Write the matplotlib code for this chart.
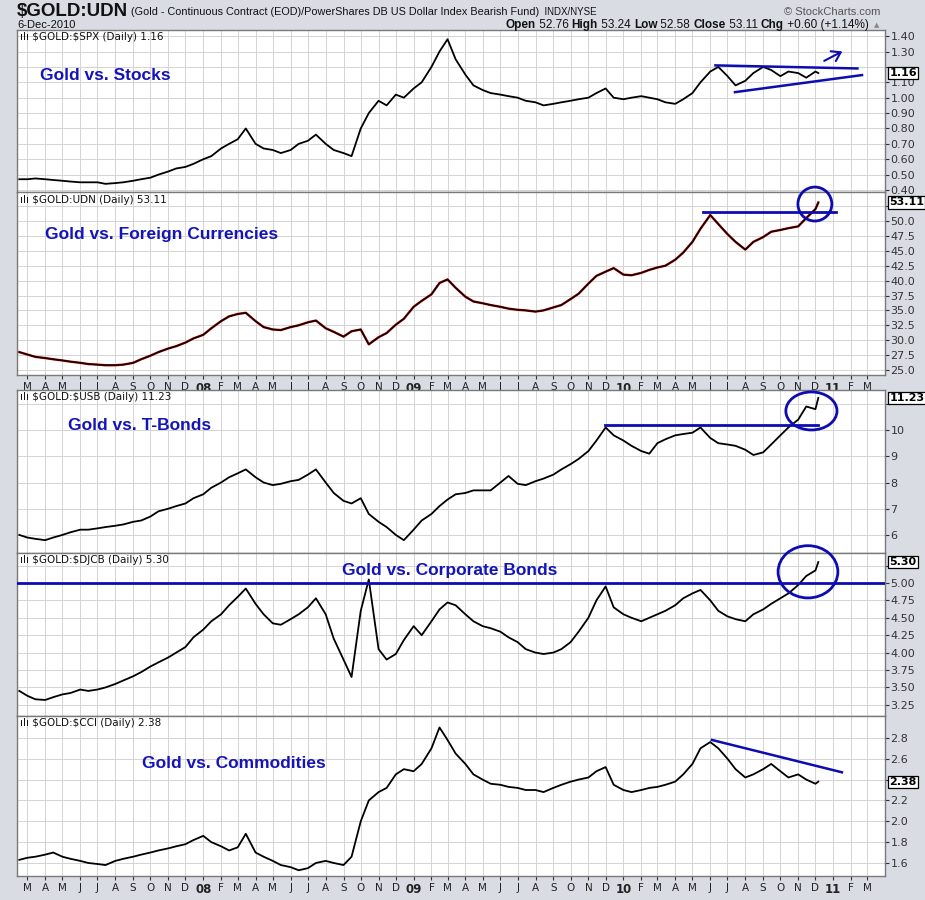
import matplotlib
matplotlib.use('Agg')
import matplotlib.pyplot as plt
import matplotlib.dates as mdates
from matplotlib.patches import Ellipse
from matplotlib.transforms import blended_transform_factory
import pandas as pd
import numpy as np

# ---------------- data ----------------
dates = list(pd.date_range('2007-02-15', '2010-12-01', freq='SMS')) + [pd.Timestamp('2010-12-06')]

gold_spx = [0.47,0.47,0.475,0.47,0.465,0.46,0.455,0.45,0.45,0.45,
            0.44,0.445,0.45,0.46,0.47,0.48,0.50,0.52,0.54,0.55,
            0.57,0.60,0.62,0.67,0.70,0.73,0.80,0.70,0.67,0.66,
            0.64,0.66,0.70,0.72,0.76,0.70,0.66,0.64,0.62,0.80,
            0.90,0.98,0.95,1.02,1.00,1.06,1.10,1.20,1.30,1.38,
            1.25,1.15,1.08,1.05,1.03,1.02,1.01,1.00,0.98,0.97,
            0.95,0.96,0.97,0.98,0.99,1.00,1.03,1.06,1.00,0.99,
            1.00,1.01,1.00,0.99,0.97,0.96,0.99,1.03,1.10,1.17,
            1.20,1.14,1.08,1.11,1.16,1.20,1.18,1.14,1.17,1.16,
            1.13,1.17,1.16]

gold_udn = [28.0,27.6,27.2,27.0,26.8,26.6,26.4,26.2,26.0,25.9,
            25.8,25.8,25.9,26.2,26.8,27.4,28.0,28.6,29.0,29.6,
            30.3,30.9,32.0,33.2,34.0,34.4,34.6,33.2,32.2,31.8,
            31.7,32.2,32.5,33.0,33.3,32.0,31.4,30.6,31.5,31.8,
            29.3,30.5,31.2,32.6,33.6,35.6,36.6,37.7,39.6,40.2,
            38.8,37.3,36.5,36.2,35.9,35.6,35.3,35.1,35.0,34.8,
            35.0,35.5,35.9,36.9,37.8,39.5,40.8,41.5,42.1,41.0,
            40.9,41.3,41.8,42.2,42.5,43.5,44.7,46.5,48.7,51.0,
            49.5,47.8,46.5,45.2,46.5,47.3,48.2,48.5,48.8,49.1,
            50.5,52.0,53.11]

gold_usb = [6.0,5.9,5.85,5.8,5.9,6.0,6.1,6.2,6.2,6.25,
            6.3,6.35,6.4,6.5,6.55,6.7,6.9,7.0,7.1,7.2,
            7.4,7.55,7.8,8.0,8.2,8.35,8.5,8.2,8.0,7.9,
            7.95,8.05,8.1,8.3,8.5,8.0,7.6,7.3,7.2,7.4,
            6.8,6.5,6.3,6.0,5.8,6.2,6.55,6.8,7.1,7.35,
            7.55,7.6,7.7,7.7,7.7,8.0,8.25,7.95,7.9,8.05,
            8.15,8.3,8.5,8.7,8.9,9.2,9.6,10.1,9.8,9.6,
            9.4,9.2,9.1,9.5,9.65,9.8,9.85,9.9,10.1,9.7,
            9.5,9.45,9.4,9.25,9.05,9.15,9.45,9.8,10.1,10.4,
            10.9,10.8,11.23]

gold_djcb = [3.45,3.38,3.33,3.32,3.36,3.40,3.42,3.47,3.45,3.47,
             3.50,3.55,3.60,3.66,3.72,3.80,3.86,3.93,4.00,4.08,
             4.22,4.33,4.45,4.55,4.68,4.80,4.92,4.70,4.55,4.42,
             4.40,4.48,4.55,4.65,4.78,4.55,4.20,3.90,3.65,4.60,
             5.05,4.05,3.90,3.98,4.18,4.38,4.25,4.45,4.62,4.72,
             4.68,4.55,4.45,4.38,4.35,4.30,4.22,4.15,4.05,4.00,
             3.98,4.00,4.05,4.15,4.30,4.50,4.75,4.95,4.65,4.55,
             4.50,4.45,4.50,4.55,4.60,4.68,4.78,4.85,4.90,4.75,
             4.60,4.52,4.48,4.45,4.55,4.62,4.70,4.78,4.85,4.97,
             5.10,5.18,5.30]

gold_cci = [1.63,1.65,1.66,1.68,1.70,1.66,1.64,1.62,1.60,1.59,
            1.58,1.62,1.64,1.66,1.68,1.70,1.72,1.74,1.76,1.78,
            1.82,1.86,1.80,1.76,1.72,1.75,1.88,1.70,1.66,1.62,
            1.58,1.56,1.53,1.55,1.60,1.62,1.60,1.58,1.66,2.00,
            2.20,2.28,2.32,2.45,2.50,2.48,2.55,2.70,2.90,2.78,
            2.65,2.55,2.45,2.40,2.36,2.35,2.33,2.32,2.30,2.30,
            2.28,2.32,2.35,2.38,2.40,2.42,2.48,2.52,2.35,2.30,
            2.28,2.30,2.32,2.33,2.35,2.38,2.45,2.55,2.70,2.76,
            2.70,2.60,2.50,2.42,2.45,2.50,2.55,2.48,2.42,2.45,
            2.40,2.36,2.38]

panel_symbols = ['$GOLD:$SPX', '$GOLD:UDN', '$GOLD:$USB', '$GOLD:$DJCB', '$GOLD:$CCI']
panel_last = ['1.16', '53.11', '11.23', '5.30', '2.38']
panel_titles = ['Gold vs. Stocks', 'Gold vs. Foreign Currencies', 'Gold vs. T-Bonds',
                'Gold vs. Corporate Bonds', 'Gold vs. Commodities']

# annotation data (dates, values)
spx_upper_d, spx_upper_v = ['2010-06-10', '2011-02-12'], [1.21, 1.19]
spx_lower_d, spx_lower_v = ['2010-07-14', '2011-02-20'], [1.036, 1.147]
spx_arrow_d, spx_arrow_v = ['2010-12-12', '2011-01-21'], [1.231, 1.309]
udn_res_d, udn_res_v = ['2010-05-20', '2011-01-05'], 51.5
udn_circ = ('2010-11-30', 52.85, 59, 5.7)
usb_res_d, usb_res_v = ['2009-11-30', '2010-12-06'], 10.2
usb_circ = ('2010-11-24', 10.73, 89, 1.45)
djcb_res_v = 5.00
djcb_circ = ('2010-11-18', 5.16, 104, 0.75)
cci_trend_d, cci_trend_v = ['2010-06-04', '2011-01-16'], [2.78, 2.47]

# ---------------- style ----------------
W_PX, H_PX = 925, 900
BG = '#d9dce3'
BLUE = '#0c0cb0'
TXTBLUE = '#1414b8'
GRID = '#d4d4d4'

fig = plt.figure(figsize=(9.25, 9), dpi=100, facecolor=BG)

def add_ax(top, bot):
    return fig.add_axes([17 / W_PX, 1 - bot / H_PX, 868 / W_PX, (bot - top) / H_PX])

bounds = [(30, 192), (192, 375), (390, 553), (553, 716), (716, 876)]
axes = [add_ax(t, b) for t, b in bounds]

series = [gold_spx, gold_udn, gold_usb, gold_djcb, gold_cci]
ylims = [(0.387, 1.44), (24.16, 54.87), (5.31, 11.53), (3.09, 5.43), (1.475, 3.01)]
yticks = [np.arange(0.40, 1.401, 0.10), np.arange(25.0, 52.51, 2.5), np.arange(6, 12, 1),
          np.arange(3.25, 5.251, 0.25), np.arange(1.6, 2.81, 0.2)]
yfmts = ['{:.2f}', '{:.1f}', '{:.0f}', '{:.2f}', '{:.1f}']

xmin, xmax = pd.Timestamp('2007-02-11'), pd.Timestamp('2011-04-01')
months = pd.date_range('2007-03-01', '2011-03-01', freq='MS')
mlabels = [(str(m.year)[2:] if m.month == 1 else m.strftime('%b')[0]) for m in months]

for i, ax in enumerate(axes):
    ax.set_facecolor('white')
    ax.set_xlim(xmin, xmax)
    ax.set_ylim(*ylims[i])
    ax.set_xticks(months)
    ax.set_yticks(yticks[i])
    last = float(panel_last[i])
    rng = ylims[i][1] - ylims[i][0]
    # labels hidden behind the last-value box are left blank
    ax.set_yticklabels(['' if abs(v - last) < 0.045 * rng else yfmts[i].format(v) for v in yticks[i]])
    ax.yaxis.tick_right()
    ax.tick_params(axis='y', labelsize=8, length=3, pad=1, colors='#333333')
    ax.tick_params(axis='x', length=3, colors='#333333')
    ax.grid(True, color=GRID, lw=0.7)
    ax.set_axisbelow(True)
    for s in ax.spines.values():
        s.set_color('#7a7a7a')
        s.set_linewidth(1.0)
    if i in (1, 4):
        ax.set_xticklabels(mlabels, fontsize=7.5, color='#222222')
        for lab, m in zip(ax.get_xticklabels(), months):
            if m.month == 1:
                lab.set_fontweight('bold')
                lab.set_fontsize(8.5)
        ax.tick_params(axis='x', pad=2)
    else:
        ax.set_xticklabels([])
    if i == 1:
        ax.plot(dates, series[i], color='#c00000', lw=1.7, zorder=2)
        ax.plot(dates, series[i], color='black', lw=1.0, zorder=3)
    else:
        ax.plot(dates, series[i], color='black', lw=1.3, zorder=3)
    # header text
    hdr = u'\u0131l\u0131 ' + panel_symbols[i] + ' (Daily) ' + panel_last[i]
    ax.text(0.004, 0.985, hdr.replace('$', r'\$'),
            transform=ax.transAxes, ha='left', va='top', fontsize=7.5, color='#111111',
            family='DejaVu Sans')
    # last value box
    tr = blended_transform_factory(ax.transAxes, ax.transData)
    ax.text(1.005, last, panel_last[i], transform=tr, ha='left', va='center',
            fontsize=8, fontweight='bold', color='black', zorder=10, clip_on=False,
            bbox=dict(boxstyle='square,pad=0.1', fc='white', ec='black', lw=0.9))

def ell(ax, c):
    d, v, w, h = c
    ax.add_patch(Ellipse((mdates.date2num(pd.Timestamp(d)), v), w, h, fill=False,
                         ec=BLUE, lw=2, clip_on=False, zorder=6))

# annotations
a1, a2, a3, a4, a5 = axes
a1.plot(pd.to_datetime(spx_upper_d), spx_upper_v, color=BLUE, lw=1.8, zorder=5)
a1.plot(pd.to_datetime(spx_lower_d), spx_lower_v, color=BLUE, lw=1.8, zorder=5)
a1.annotate('', xy=(pd.Timestamp(spx_arrow_d[1]), spx_arrow_v[1]),
            xytext=(pd.Timestamp(spx_arrow_d[0]), spx_arrow_v[0]),
            arrowprops=dict(arrowstyle='->,head_length=0.6,head_width=0.4', color=BLUE, lw=1.5))
a2.plot(pd.to_datetime(udn_res_d), [udn_res_v] * 2, color=BLUE, lw=2, zorder=5)
ell(a2, udn_circ)
a3.plot(pd.to_datetime(usb_res_d), [usb_res_v] * 2, color=BLUE, lw=2, zorder=5)
ell(a3, usb_circ)
a4.axhline(djcb_res_v, color=BLUE, lw=2, zorder=5)
ell(a4, djcb_circ)
a5.plot(pd.to_datetime(cci_trend_d), cci_trend_v, color=BLUE, lw=1.8, zorder=5)

# panel titles
def ftxt(x, y, s, **kw):
    return fig.text(x / W_PX, 1 - y / H_PX, s, **kw)

tkw = dict(fontsize=12.5, fontweight='bold', color=TXTBLUE, family='Liberation Sans', va='center', zorder=20)
ftxt(40, 75, panel_titles[0], ha='left', **tkw)
ftxt(45, 235, panel_titles[1], ha='left', **tkw)
ftxt(68, 425, panel_titles[2], ha='left', **tkw)
ftxt(450, 570, panel_titles[3], ha='center', **tkw)
ftxt(142, 763, panel_titles[4], ha='left', **tkw)

# top header
narrow = ['Liberation Sans Narrow', 'Liberation Sans', 'DejaVu Sans']
fig.canvas.draw()
r = fig.canvas.get_renderer()

def seq(x0, y, parts):
    x = x0
    for s, bold, size, col in parts:
        t = ftxt(x, y, s.replace('$', r'\$'), ha='left', va='center', fontsize=size, family=narrow,
                 fontweight='bold' if bold else 'normal', color=col)
        bb = t.get_window_extent(renderer=r)
        x += bb.width
    return x

seq(17, 12, [('$GOLD:UDN', True, 13.5, '#111111'),
             (' (Gold - Continuous Contract (EOD)/PowerShares DB US Dollar Index Bearish Fund)', False, 7.8, '#111111'),
             ('  INDX/NYSE', False, 7, '#111111')])
ftxt(880, 12, u'\u00a9 StockCharts.com', ha='right', va='center', fontsize=8, family=narrow, color='#555555')
ftxt(17, 25, '6-Dec-2010', ha='left', va='center', fontsize=8, family=narrow, color='#111111')

parts = [('Open', True), (' 52.76 ', False), ('High', True), (' 53.24 ', False), ('Low', True),
         (' 52.58 ', False), ('Close', True), (' 53.11 ', False), ('Chg', True), (' +0.60 (+1.14%) ', False)]
tot = 0
tmp = []
for s, b in parts:
    t = fig.text(0, 0, s, fontsize=8.5, family=narrow, fontweight='bold' if b else 'normal')
    tot += t.get_window_extent(renderer=r).width
    tmp.append(t)
for t in tmp:
    t.remove()
seq(872 - tot, 25, [(s, b, 8.5, '#111111') for s, b in parts])
ftxt(874, 25, u'\u25b2', ha='left', va='center', fontsize=5, color='#888888')

fig.savefig('out.png', dpi=100, facecolor=BG)
